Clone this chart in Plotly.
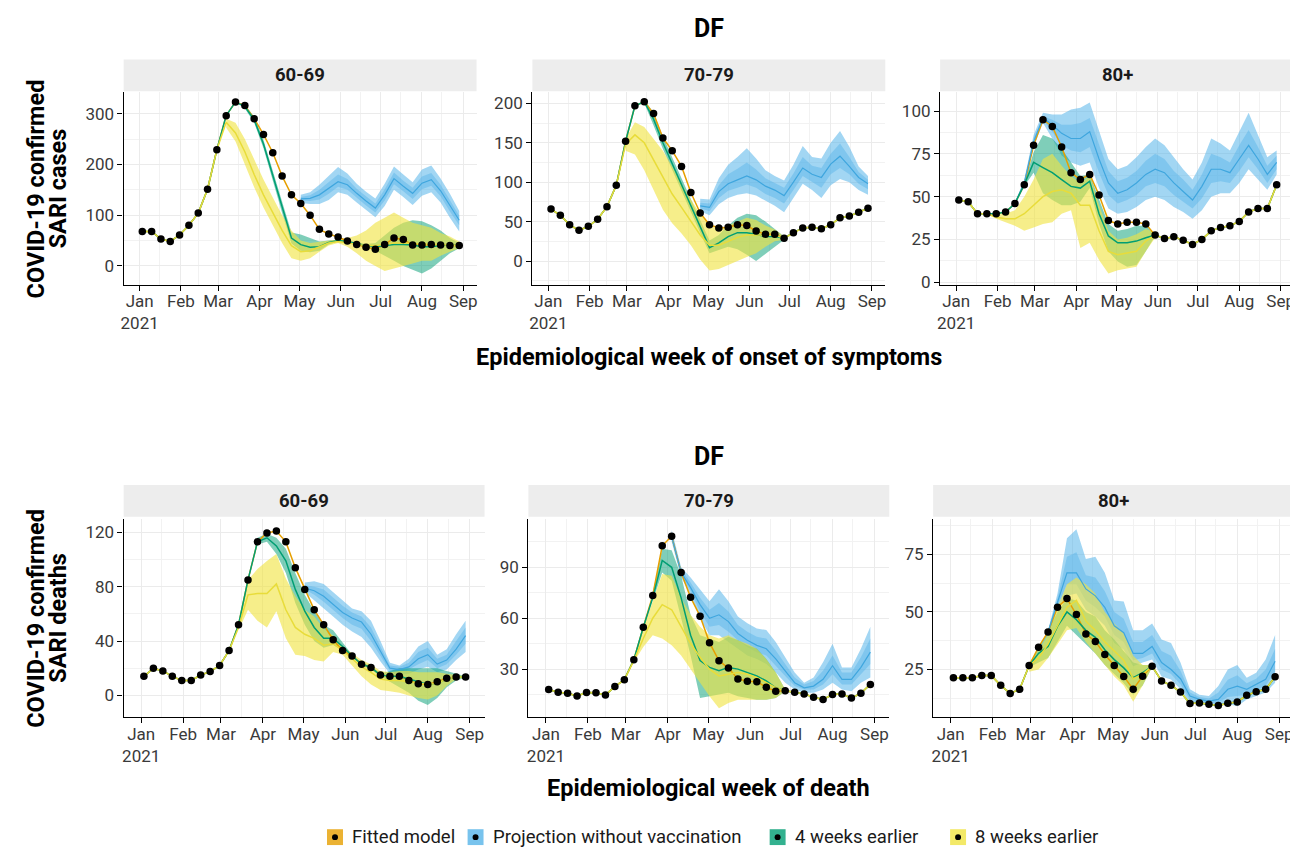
import plotly.graph_objects as go

W, H = 1298, 852
FONT = "Roboto"

# ---------------- data ----------------
weeks = ["2021-01-03", "2021-01-10", "2021-01-17", "2021-01-24", "2021-01-31",
         "2021-02-07", "2021-02-14", "2021-02-21", "2021-02-28",
         "2021-03-07", "2021-03-14", "2021-03-21", "2021-03-28",
         "2021-04-04", "2021-04-11", "2021-04-18", "2021-04-25",
         "2021-05-02", "2021-05-09", "2021-05-16", "2021-05-23", "2021-05-30",
         "2021-06-06", "2021-06-13", "2021-06-20", "2021-06-27",
         "2021-07-04", "2021-07-11", "2021-07-18", "2021-07-25",
         "2021-08-01", "2021-08-08", "2021-08-15", "2021-08-22", "2021-08-29"]

month_ticks = ["2021-01-01", "2021-02-01", "2021-03-01", "2021-04-01", "2021-05-01",
               "2021-06-01", "2021-07-01", "2021-08-01", "2021-09-01"]
month_labels = ["Jan<br>2021", "Feb", "Mar", "Apr", "May", "Jun", "Jul", "Aug", "Sep"]
legend_labels = ["Fitted model", "Projection without vaccination", "4 weeks earlier", "8 weeks earlier"]
age_groups = ["60-69", "70-79", "80+"]

# ---- cases 60-69 ----
c6069_obs = [68, 68, 53, 48, 61, 80, 104, 151, 229, 296, 323, 316, 290, 259, 223, 177, 140, 123, 100, 72,
             63, 57, 49, 42, 37, 33, 42, 55, 52, 41, 41, 42, 41, 40, 40]
c6069_blue_start = "2021-05-02"
c6069_blue_mid = [132, 133, 140, 153, 166, 160, 143, 128, 114, 140, 172, 157, 143, 163, 170, 148, 118, 90]
c6069_blue_lo = [124, 122, 122, 130, 145, 140, 125, 110, 96, 118, 150, 136, 120, 138, 145, 125, 95, 68]
c6069_blue_hi = [140, 145, 160, 178, 195, 182, 162, 146, 133, 162, 196, 180, 165, 190, 198, 172, 142, 108]
c6069_blue_lo50 = [129, 128, 131, 142, 156, 150, 134, 119, 105, 129, 161, 147, 132, 151, 158, 137, 107, 80]
c6069_blue_hi50 = [136, 139, 150, 165, 180, 171, 152, 137, 123, 151, 184, 168, 154, 176, 183, 160, 130, 99]
c6069_green_start = "2021-03-21"
c6069_green_mid = [314, 288, 240, 178, 115, 55, 42, 37, 38, 46, 50, 48, 44, 40, 38, 40, 42, 42, 41, 38, 38, 40, 41, 40]
c6069_green_lo = [310, 282, 232, 168, 104, 44, 30, 27, 30, 42, 48, 46, 42, 37, 30, 20, 10, 0, -8, -15, -5, 10, 25, 35]
c6069_green_hi = [318, 294, 248, 188, 126, 66, 62, 55, 48, 50, 52, 50, 46, 43, 45, 60, 75, 85, 90, 88, 80, 70, 55, 45]
c6069_yellow_start = "2021-03-07"
c6069_yellow_mid = [283, 262, 225, 180, 140, 105, 70, 40, 28, 30, 38, 45, 48, 45, 42, 40, 40, 42, 45, 45, 44, 43, 42, 41, 41, 40]
c6069_yellow_lo = [272, 245, 200, 155, 115, 80, 45, 15, 10, 15, 28, 40, 45, 38, 25, 10, 0, -10, -5, 0, 5, 10, 10, 20, 28, 35]
c6069_yellow_hi = [290, 282, 250, 210, 170, 135, 100, 70, 50, 45, 47, 50, 52, 55, 60, 70, 85, 95, 105, 95, 85, 80, 75, 65, 58, 48]

# ---- cases 70-79 ----
c7079_obs = [66, 58, 46, 39, 44, 53, 69, 96, 152, 197, 202, 187, 156, 140, 120, 87, 61, 46, 42, 43,
             46, 45, 38, 34, 34, 29, 36, 42, 43, 41, 46, 55, 57, 62, 67]
c7079_blue_start = "2021-04-25"
c7079_blue_mid = [70, 68, 88, 98, 103, 108, 103, 95, 90, 83, 100, 118, 110, 106, 123, 133, 120, 106, 98]
c7079_blue_lo = [63, 58, 72, 80, 84, 86, 83, 76, 70, 62, 80, 98, 90, 80, 96, 104, 100, 90, 84]
c7079_blue_hi = [79, 78, 105, 122, 132, 143, 130, 115, 108, 102, 122, 146, 132, 130, 150, 165, 145, 120, 108]
c7079_blue_lo50 = [67, 63, 80, 89, 93, 97, 93, 85, 80, 73, 90, 108, 100, 93, 110, 118, 110, 98, 91]
c7079_blue_hi50 = [74, 73, 96, 110, 117, 125, 116, 105, 99, 93, 111, 132, 121, 118, 136, 149, 132, 113, 103]
c7079_green_start = "2021-03-14"
c7079_green_mid = [202, 180, 150, 123, 96, 70, 44, 17, 23, 31, 36, 36, 34, 31, 31, 29]
c7079_green_lo = [200, 172, 142, 115, 88, 62, 36, 10, 14, 18, 15, 8, 0, 8, 18, 27]
c7079_green_hi = [205, 188, 158, 131, 104, 78, 52, 26, 33, 45, 55, 60, 58, 50, 40, 31]
c7079_yellow_start = "2021-02-28"
c7079_yellow_mid = [148, 160, 150, 128, 105, 85, 68, 50, 33, 20, 20, 25, 30, 33, 33, 33, 33, 29]
c7079_yellow_lo = [140, 135, 115, 90, 65, 48, 35, 20, 2, -12, -10, -5, 0, 5, 10, 18, 25, 27]
c7079_yellow_hi = [155, 176, 170, 155, 140, 120, 98, 78, 60, 45, 40, 45, 50, 55, 52, 45, 40, 31]

# ---- cases 80+ ----
c80_obs = [48, 47, 40, 40, 40, 41, 46, 57, 80, 95, 91, 79, 64, 60, 63, 51, 36, 34, 35, 35,
           34, 27.5, 25.5, 26.5, 24.5, 22, 25, 30, 32, 33, 35.5, 41, 43, 43, 57]
c80_blue_start = "2021-02-14"
c80_blue_mid = [46, 58, 82, 96, 92, 87, 84, 84, 88, 72, 58, 52, 54, 58, 63, 66, 64, 58, 53, 48, 56, 66, 66, 64, 72, 80, 72, 63, 70]
c80_blue_lo = [46, 56, 79, 93, 84, 74, 70, 68, 70, 55, 43, 40, 41, 44, 48, 50, 48, 44, 41, 37, 42, 50, 52, 52, 58, 66, 60, 54, 63]
c80_blue_hi = [46.5, 60, 86, 99, 98, 98, 101, 102, 105, 88, 72, 66, 68, 73, 79, 84, 80, 73, 66, 60, 70, 84, 81, 77, 88, 99, 86, 73, 77]
c80_blue_lo50 = [46, 57, 80, 95, 88, 80, 77, 76, 79, 64, 51, 46, 48, 51, 56, 58, 56, 51, 47, 43, 49, 58, 59, 58, 65, 73, 66, 58, 66]
c80_blue_hi50 = [46.2, 59, 84, 97, 95, 92, 92, 93, 96, 80, 65, 59, 61, 65, 71, 75, 72, 65, 60, 54, 63, 75, 73, 70, 80, 89, 79, 68, 74]
c80_green_start = "2021-02-21"
c80_green_mid = [57, 70, 67, 64, 60, 56, 55, 59, 40, 27, 23, 23, 24, 26, 27.5]
c80_green_lo = [56, 64, 52, 48, 45, 45, 47, 55, 34, 18, 12, 9, 10, 18, 27]
c80_green_hi = [58, 76, 86, 84, 78, 70, 62, 63, 48, 34, 30, 31, 33, 33, 28]
c80_yellow_start = "2021-01-24"
c80_yellow_mid = [40, 38, 37, 37, 40, 45, 50, 53, 54, 52, 45, 45, 30, 18, 16, 17, 18, 24, 27.5]
c80_yellow_lo = [40, 37, 35, 33, 30, 32, 34, 35, 40, 42, 20, 23, 13, 5, 7, 8, 9, 18, 26]
c80_yellow_hi = [40, 39.5, 40, 42, 50, 60, 72, 75, 68, 62, 58, 62, 45, 30, 25, 26, 28, 31, 29]

# ---- deaths 60-69 ----
d6069_obs = [14, 20, 18, 14, 11, 11, 15, 17.5, 22, 33, 52, 85, 113, 119.5, 121, 113, 94, 78, 63, 52,
             41, 33, 29, 23, 20.5, 15, 14, 14, 11, 8.5, 8, 10, 12.7, 13.5, 13.5]
d6069_blue_start = "2021-05-02"
d6069_blue_mid = [79, 77, 73, 67, 61, 57, 54, 45, 32, 20, 19, 21, 27, 30, 23, 26, 34, 44]
d6069_blue_lo = [76, 70, 64, 58, 52, 47, 43, 35, 25, 16, 15, 16, 19, 21, 17, 19, 26, 32]
d6069_blue_hi = [83, 84, 82, 76, 70, 64, 62, 55, 40, 24, 22, 27, 36, 40, 30, 34, 45, 55]
d6069_blue_lo50 = [78, 74, 69, 63, 57, 52, 49, 40, 29, 18, 17, 19, 23, 26, 20, 23, 30, 38]
d6069_blue_hi50 = [81, 80, 78, 72, 66, 61, 58, 50, 36, 22, 21, 24, 32, 35, 27, 30, 40, 50]
d6069_green_start = "2021-03-28"
d6069_green_mid = [113, 116, 110, 99, 78, 62, 50, 42, 42, 36, 29, 23, 20.5, 15, 14, 14, 12, 10, 8, 9, 12, 13.5, 13.5]
d6069_green_lo = [111, 113, 104, 90, 68, 52, 40, 35, 37, 33, 28, 22, 19, 14, 10, 6, 2, -4, -7, -2, 6, 11, 13]
d6069_green_hi = [116, 119, 116, 108, 90, 74, 62, 52, 48, 39, 30, 24, 22, 16, 18, 20, 20, 20, 20, 20, 18, 16, 14]
d6069_yellow_start = "2021-03-14"
d6069_yellow_mid = [50, 74, 75, 75, 82, 63, 50, 45, 42, 37, 38, 33, 27, 21, 17, 12, 11, 11, 10, 9, 8, 9, 12, 13.5, 13.5]
d6069_yellow_lo = [48, 63, 55, 50, 62, 42, 30, 29, 26, 25, 32, 30, 22, 14, 8, 4, 3, 2, 0, -2, -3, 0, 7, 12, 13]
d6069_yellow_hi = [53, 85, 93, 99, 104, 86, 73, 63, 58, 49, 44, 36, 31, 26, 23, 18, 17, 18, 18, 17, 17, 17, 16, 15, 14]

# ---- deaths 70-79 ----
d7079_obs = [18, 16.4, 15.8, 14.2, 16.2, 16, 14.8, 19.7, 23.8, 35.5, 54.7, 73.4, 102.7, 108.3, 86.9, 72.3,
             61.2, 45.6, 34.9, 30.6, 24.2, 22.8, 22.6, 19.3, 17, 17.3, 16.4, 15.4, 13.4, 12.1, 15, 15.4, 12.9, 15.8, 21]
d7079_blue_start = "2021-04-04"
d7079_blue_mid = [108, 87, 78, 68, 60, 62, 58, 51, 47, 44, 42, 36, 29, 22, 19, 20, 24, 32, 24, 24, 31, 40]
d7079_blue_lo = [105, 84, 74, 60, 50, 50, 46, 42, 38, 36, 33, 28, 22, 18, 16, 16, 18, 22, 18, 17, 22, 25]
d7079_blue_hi = [112, 90, 84, 77, 70, 77, 70, 61, 57, 54, 53, 46, 37, 28, 22, 25, 34, 45, 31, 31, 42, 55]
d7079_blue_lo50 = [107, 86, 76, 64, 55, 56, 52, 47, 43, 40, 38, 32, 26, 20, 18, 18, 21, 27, 21, 21, 27, 33]
d7079_blue_hi50 = [110, 89, 81, 72, 65, 69, 64, 56, 52, 49, 48, 41, 33, 25, 21, 23, 29, 38, 28, 28, 37, 48]
d7079_green_start = "2021-03-21"
d7079_green_mid = [72, 94, 90, 72, 50, 35, 31, 29, 31, 30, 28, 26, 23, 19, 17.3]
d7079_green_lo = [70, 87, 82, 60, 38, 13, 14, 15, 16, 14, 13, 12, 12, 13, 17]
d7079_green_hi = [75, 101, 100, 85, 62, 50, 48, 46, 49, 47, 44, 42, 36, 28, 18]
d7079_yellow_start = "2021-03-07"
d7079_yellow_mid = [35, 48, 60, 68, 65, 55, 45, 37, 30, 26, 27, 28, 27, 25, 22, 19, 17.3]
d7079_yellow_lo = [34, 43, 50, 48, 44, 38, 30, 22, 14, 7, 10, 12, 12, 12, 12, 13, 17]
d7079_yellow_hi = [36, 54, 70, 86, 85, 72, 62, 55, 50, 48, 50, 47, 45, 42, 36, 28, 18]

# ---- deaths 80+ ----
d80_obs = [21.4, 21.4, 21.4, 22.4, 22.4, 18.1, 14.6, 16.4, 26.7, 34.7, 41.3, 52.1, 55.8, 48.9, 40.4, 37.2,
           31.5, 26.7, 22, 16.4, 22.1, 26.4, 20, 18.1, 15.2, 10.2, 10.4, 9.9, 9.4, 10.3, 10.9, 13.8, 15.3, 16.4, 21.8]
d80_blue_start = "2021-03-14"
d80_blue_mid = [41.3, 54, 67, 67, 60, 57, 52, 44, 41, 32, 32, 35, 28, 25, 21, 13.5, 12, 11.3, 12, 16.4, 17.8, 16.4, 18.5, 20.7, 28.6]
d80_blue_lo = [41, 51, 57, 58, 51, 48, 44, 36.5, 33.6, 26.4, 28, 29.3, 22, 20.7, 16.4, 10.6, 9.9, 9.4, 9.4, 10, 9, 12, 13.5, 15, 19.2]
d80_blue_hi = [42, 58, 82, 86, 73, 74, 67, 55, 54.5, 42, 42, 45, 38, 36.5, 28, 16.4, 14, 13.5, 17.8, 25, 27, 21.4, 23.6, 29.3, 40]
d80_blue_lo50 = [41.2, 52.5, 62, 62, 55, 52, 48, 40, 37, 29, 30, 32, 25, 23, 18.5, 12, 11, 10.3, 10.7, 13, 13.5, 14, 16, 18, 24]
d80_blue_hi50 = [41.6, 56, 74, 76, 66, 65, 59, 50, 47, 37, 37, 40, 33, 31, 24.5, 15, 13, 12.4, 15, 20.5, 22.5, 19, 21, 25, 34]
d80_green_start = "2021-02-28"
d80_green_mid = [26.7, 32, 35, 43.7, 50, 46.6, 42, 39, 33.6, 29.3, 25.7, 21.4, 23.6, 26.4]
d80_green_lo = [26, 28, 30, 37, 44, 40, 36, 32, 27, 23, 19, 14, 18, 26]
d80_green_hi = [27.5, 34, 42, 50, 56, 55, 50, 48, 42, 38, 33, 28, 27, 27]
d80_yellow_start = "2021-02-28"
d80_yellow_mid = [26.7, 30, 36, 44, 52, 55, 46, 42, 37, 33, 29, 21, 23, 26.4]
d80_yellow_lo = [24, 25, 30, 36, 42, 43, 37, 32, 27, 22, 18, 11, 18, 26]
d80_yellow_hi = [28, 33, 40, 52, 62, 65, 62, 58, 50, 45, 41, 31, 27, 27]

# ---------------- style ----------------
ORANGE = "#E69F00"
BLUE = "#56B4E9"
GREEN = "#009E73"
YELLOW = "#F0E442"


def rgba(h, a):
    h = h.lstrip("#")
    return "rgba(%d,%d,%d,%.3f)" % (int(h[0:2], 16), int(h[2:4], 16), int(h[4:6], 16), a)


panels = [
    dict(obs=c6069_obs, strip=age_groups[0], px=(113, 467), py=(85, 279), yr=[-37, 342],
         yt=[0, 100, 200, 300], ym=[50, 150, 250], xr=["2020-12-20", "2021-09-11"],
         blue=(c6069_blue_start, c6069_blue_mid, c6069_blue_lo, c6069_blue_hi, c6069_blue_lo50, c6069_blue_hi50),
         green=(c6069_green_start, c6069_green_mid, c6069_green_lo, c6069_green_hi),
         yellow=(c6069_yellow_start, c6069_yellow_mid, c6069_yellow_lo, c6069_yellow_hi)),
    dict(obs=c7079_obs, strip=age_groups[1], px=(523, 877), py=(85, 279), yr=[-30, 214],
         yt=[0, 50, 100, 150, 200], ym=[-25, 25, 75, 125, 175], xr=["2020-12-20", "2021-09-11"],
         blue=(c7079_blue_start, c7079_blue_mid, c7079_blue_lo, c7079_blue_hi, c7079_blue_lo50, c7079_blue_hi50),
         green=(c7079_green_start, c7079_green_mid, c7079_green_lo, c7079_green_hi),
         yellow=(c7079_yellow_start, c7079_yellow_mid, c7079_yellow_lo, c7079_yellow_hi)),
    dict(obs=c80_obs, strip=age_groups[2], px=(932, 1287), py=(85, 279), yr=[-1.5, 111],
         yt=[0, 25, 50, 75, 100], ym=[12.5, 37.5, 62.5, 87.5], xr=["2020-12-20", "2021-09-11"],
         blue=(c80_blue_start, c80_blue_mid, c80_blue_lo, c80_blue_hi, c80_blue_lo50, c80_blue_hi50),
         green=(c80_green_start, c80_green_mid, c80_green_lo, c80_green_hi),
         yellow=(c80_yellow_start, c80_yellow_mid, c80_yellow_lo, c80_yellow_hi)),
    dict(obs=d6069_obs, strip=age_groups[0], px=(113, 475), py=(515, 715), yr=[-16, 130],
         yt=[0, 40, 80, 120], ym=[20, 60, 100], xr=["2020-12-19", "2021-09-12"],
         blue=(d6069_blue_start, d6069_blue_mid, d6069_blue_lo, d6069_blue_hi, d6069_blue_lo50, d6069_blue_hi50),
         green=(d6069_green_start, d6069_green_mid, d6069_green_lo, d6069_green_hi),
         yellow=(d6069_yellow_start, d6069_yellow_mid, d6069_yellow_lo, d6069_yellow_hi)),
    dict(obs=d7079_obs, strip=age_groups[1], px=(519, 881), py=(515, 715), yr=[1.7, 118.6],
         yt=[30, 60, 90], ym=[15, 45, 75, 105], xr=["2020-12-19", "2021-09-12"],
         blue=(d7079_blue_start, d7079_blue_mid, d7079_blue_lo, d7079_blue_hi, d7079_blue_lo50, d7079_blue_hi50),
         green=(d7079_green_start, d7079_green_mid, d7079_green_lo, d7079_green_hi),
         yellow=(d7079_yellow_start, d7079_yellow_mid, d7079_yellow_lo, d7079_yellow_hi)),
    dict(obs=d80_obs, strip=age_groups[2], px=(925, 1287), py=(515, 715), yr=[4.3, 90.5],
         yt=[25, 50, 75], ym=[12.5, 37.5, 62.5, 87.5], xr=["2020-12-19", "2021-09-12"],
         blue=(d80_blue_start, d80_blue_mid, d80_blue_lo, d80_blue_hi, d80_blue_lo50, d80_blue_hi50),
         green=(d80_green_start, d80_green_mid, d80_green_lo, d80_green_hi),
         yellow=(d80_yellow_start, d80_yellow_mid, d80_yellow_lo, d80_yellow_hi)),
]

fig = go.Figure()


def window(start, n):
    s = weeks.index(start)
    return s, weeks[s:s + n]


def band(xa, ya, xs, lo, hi, color, alpha):
    fig.add_trace(go.Scatter(x=xs + xs[::-1], y=list(hi) + list(lo)[::-1], fill="toself",
                             fillcolor=rgba(color, alpha), line=dict(width=0), mode="lines",
                             hoverinfo="skip", showlegend=False, xaxis=xa, yaxis=ya))


def line(xa, ya, xs, ys, color, width=1.5):
    fig.add_trace(go.Scatter(x=xs, y=ys, mode="lines", line=dict(color=color, width=width),
                             hoverinfo="skip", showlegend=False, xaxis=xa, yaxis=ya))


minor_x = ["2021-01-16", "2021-02-14", "2021-03-16", "2021-04-16", "2021-05-16",
           "2021-06-16", "2021-07-16", "2021-08-16", "2020-12-16"]

layout_axes = {}
shapes = []
annotations = []

for i, p in enumerate(panels):
    n = i + 1
    xa = "x" if n == 1 else "x%d" % n
    ya = "y" if n == 1 else "y%d" % n
    obs = p["obs"]

    # ribbons
    bs, bmid, blo, bhi, blo50, bhi50 = p["blue"]
    _, bx = window(bs, len(bmid))
    band(xa, ya, bx, blo, bhi, BLUE, 0.55)
    band(xa, ya, bx, blo50, bhi50, BLUE, 0.45)
    gs, gmid, glo, ghi = p["green"]
    gi, gx = window(gs, len(gmid))
    band(xa, ya, gx, glo, ghi, GREEN, 0.5)
    ys_, ymid, ylo, yhi = p["yellow"]
    yi, yx = window(ys_, len(ymid))
    band(xa, ya, yx, ylo, yhi, YELLOW, 0.62)

    # lines
    line(xa, ya, weeks, obs, ORANGE)
    line(xa, ya, bx, bmid, "#3FA6DE", 1.2)
    gfull = obs[:gi] + gmid + obs[gi + len(gmid):]
    line(xa, ya, weeks, gfull, GREEN, 1.5)
    yfull = obs[:yi] + ymid + obs[yi + len(ymid):]
    line(xa, ya, weeks, yfull, "#E8DC3A", 1.5)

    # observed points
    fig.add_trace(go.Scatter(x=weeks, y=obs, mode="markers",
                             marker=dict(color="black", size=7.5, line=dict(width=0)),
                             hoverinfo="skip", showlegend=False, xaxis=xa, yaxis=ya))

    x0, x1 = p["px"]
    t, b = p["py"]
    xkey = "xaxis" if n == 1 else "xaxis%d" % n
    ykey = "yaxis" if n == 1 else "yaxis%d" % n
    layout_axes[xkey] = dict(
        domain=[x0 / W, x1 / W], anchor=ya, type="date", range=p["xr"],
        tickmode="array", tickvals=month_ticks, ticktext=month_labels,
        showline=True, linecolor="black", linewidth=1.4, ticks="outside", ticklen=5,
        tickwidth=1.3, tickcolor="black", showgrid=True, gridcolor="#EBEBEB", gridwidth=1,
        zeroline=False, tickfont=dict(family=FONT, size=17, color="#3A3A3A"),
        ticklabelstandoff=-4,
        minor=dict(tickmode="array", tickvals=minor_x, showgrid=True, gridcolor="#F2F2F2",
                   gridwidth=0.8, ticks=""),
        fixedrange=True)
    layout_axes[ykey] = dict(
        domain=[1 - b / H, 1 - t / H], anchor=xa, range=p["yr"],
        tickmode="array", tickvals=p["yt"], ticktext=[str(v) for v in p["yt"]],
        showline=True, linecolor="black", linewidth=1.4, ticks="outside", ticklen=5,
        tickwidth=1.3, tickcolor="black", showgrid=True, gridcolor="#EBEBEB", gridwidth=1,
        zeroline=False, tickfont=dict(family=FONT, size=17, color="#3A3A3A"),
        minor=dict(tickmode="array", tickvals=p["ym"], showgrid=True, gridcolor="#F2F2F2",
                   gridwidth=0.8, ticks=""),
        fixedrange=True)

    # strip
    st, sb = (52, 84) if t < 400 else (481, 513)
    shapes.append(dict(type="rect", xref="paper", yref="paper", x0=x0 / W, x1=x1 / W,
                       y0=1 - sb / H, y1=1 - st / H, fillcolor="#EDEDED", line=dict(width=0),
                       layer="below"))
    annotations.append(dict(text="<b>%s</b>" % p["strip"], xref="paper", yref="paper",
                            x=(x0 + x1) / 2 / W, y=1 - (st + sb) / 2 / H, showarrow=False,
                            xanchor="center", yanchor="middle",
                            font=dict(family=FONT, size=18.5, color="#1A1A1A")))


def txt(s, x, y, size, angle=0, bold=True, anchor="center", color="black"):
    annotations.append(dict(text=("<b>%s</b>" % s) if bold else s, xref="paper", yref="paper",
                            x=x / W, y=1 - y / H, showarrow=False, xanchor=anchor,
                            yanchor="middle", textangle=angle,
                            font=dict(family=FONT, size=size, color=color)))


txt("DF", 700, 21, 25)
txt("DF", 700, 452, 25)
txt("Epidemiological week of onset of symptoms", 700, 352, 23.5)
txt("Epidemiological week of death", 700, 786, 23.5)
txt("COVID-19 confirmed", 25, 182, 23.5, angle=-90)
txt("SARI cases", 47, 182, 23.5, angle=-90)
txt("COVID-19 confirmed", 25, 615, 23.5, angle=-90)
txt("SARI deaths", 47, 615, 23.5, angle=-90)

# manual legend
leg_colors = [ORANGE, BLUE, GREEN, YELLOW]
leg_x = [325, 466, 769, 950]
ly = 836
for c, lx, lab in zip(leg_colors, leg_x, legend_labels):
    shapes.append(dict(type="rect", xref="paper", yref="paper",
                       x0=(lx - 8) / W, x1=(lx + 8) / W, y0=1 - (ly + 8) / H, y1=1 - (ly - 8) / H,
                       fillcolor=rgba(c, 0.8), line=dict(width=0)))
    shapes.append(dict(type="circle", xref="paper", yref="paper",
                       x0=(lx - 3) / W, x1=(lx + 3) / W, y0=1 - (ly + 3) / H, y1=1 - (ly - 3) / H,
                       fillcolor="black", line=dict(width=0)))
    txt(lab, lx + 15, ly, 18.5, bold=False, anchor="left", color="#1A1A1A")

fig.update_layout(
    width=W, height=H, margin=dict(l=0, r=0, t=0, b=0),
    paper_bgcolor="white", plot_bgcolor="white", showlegend=False,
    font=dict(family=FONT), shapes=shapes, annotations=annotations, **layout_axes)

fig.write_html("out.html")
